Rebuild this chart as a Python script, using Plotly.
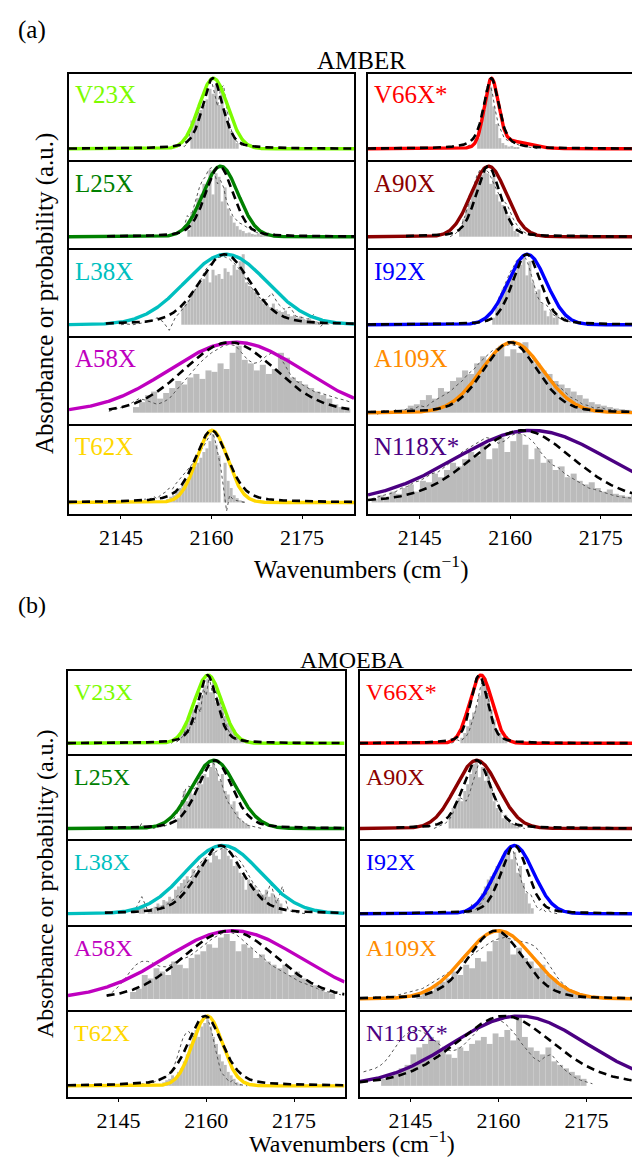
import numpy as np
import plotly.graph_objects as go

W, H = 640, 1159
FONT = "Liberation Serif"
X_RANGE = [2136.4, 2183.6]
X_RANGE_A_RIGHT = [2136.4, 2182.83]
Y_RANGE = [-0.16, 1.06]
TICKS = [2145, 2160, 2175]

LABELS = ["V23X", "L25X", "L38X", "A58X", "T62X", "V66X*", "A90X", "I92X", "A109X", "N118X*"]
COLORS = ["#7CFC00", "#008000", "#00BFBF", "#BF00BF", "#FFD700",
          "#FF0000", "#8B0000", "#0000FF", "#FF8C00", "#4B0082"]

# ---------------- AMBER (a) ----------------
A_MODEL_CENTER = [2160.3, 2161.5, 2162.4, 2164.0, 2160.1, 2156.85, 2156.4, 2162.8, 2160.3, 2163.5]
A_MODEL_FWHM = [5.6, 6.9, 16.0, 26.0, 6.0, 2.7, 6.9, 7.5, 12.0, 30.0]
A_SHOULDER_AMP = [0, 0, 0, 0, 0, 0.12, 0, 0, 0, 0]
A_SHOULDER_CENTER = [2160, 2160, 2160, 2160, 2160, 2159.6, 2160, 2160, 2160, 2160]
A_SHOULDER_FWHM = [5, 5, 5, 5, 5, 7.5, 5, 5, 5, 5]
A_FIT_CENTER = [2160.2, 2161.3, 2162.2, 2163.0, 2160.0, 2156.85, 2156.3, 2162.7, 2160.0, 2162.0]
A_FIT_FWHM = [4.0, 5.5, 10.0, 18.0, 6.5, 3.0, 4.7, 5.5, 10.5, 20.0]
A_FIT_LORENTZ = [0.4, 0.3, 0.3, 0.1, 0.4, 0.6, 0.3, 0.3, 0.2, 0.2]
A_FIT_START = [2136.4, 2142.7, 2142.5, 2143.0, 2136.4, 2136.4, 2142.7, 2136.4, 2136.4, 2136.4]
A_HIST_START = [2156.5, 2156.0, 2155.0, 2147.0, 2152.5, 2154.5, 2151.5, 2157.0, 2142.0, 2137.0]
A_HIST_WIDTH = [0.5, 0.5, 0.5, 1.0, 0.5, 0.5, 0.5, 0.5, 1.0, 1.0]
A_DOT_START = [2154.5, 2153.0, 2145.0, 2143.0, 2148.0, 2152.0, 2150.0, 2154.0, 2137.0, 2137.0]
A_DOT_STEP = [0.5, 0.5, 1.0, 1.0, 0.5, 0.5, 0.5, 0.5, 1.0, 1.0]

A_V23X_HIST = [0.40, 0.45, 0.50, 0.55, 0.62, 0.70, 0.85, 0.78, 0.90, 0.62, 0.80, 0.55, 0.35, 0.25, 0.15, 0.08]
A_L25X_HIST = [0.10, 0.35, 0.40, 0.55, 0.60, 0.75, 0.68, 0.95, 0.60, 0.90, 0.85, 0.50, 0.70, 0.40,
               0.30, 0.20, 0.15, 0.10, 0.08, 0.05, 0.06, 0.04, 0.03, 0.05, 0.02, 0.03, 0.02, 0.01]
A_L38X_HIST = [0.25, 0.30, 0.35, 0.45, 0.50, 0.55, 0.60, 0.65, 0.75, 0.60, 0.78, 0.70, 0.72, 0.65,
               0.80, 0.75, 0.70, 0.85, 0.78, 0.90, 1.00, 0.60, 0.55, 0.50, 0.45, 0.40, 0.35, 0.30,
               0.28, 0.25, 0.30, 0.22, 0.20, 0.18, 0.20, 0.15, 0.12, 0.14, 0.10, 0.12, 0.08, 0.07,
               0.09, 0.06, 0.05, 0.04, 0.05, 0.03, 0.02]
A_A58X_HIST = [0.08, 0.15, 0.25, 0.30, 0.20, 0.28, 0.35, 0.45, 0.40, 0.50, 0.55, 0.48, 0.60, 0.58,
               0.70, 0.62, 0.85, 0.95, 0.75, 0.70, 0.60, 0.68, 0.55, 0.62, 0.85, 0.78, 0.50, 0.45,
               0.40, 0.35, 0.30, 0.25, 0.20, 0.12, 0.08, 0.05]
A_T62X_HIST = [0.05, 0.08, 0.10, 0.15, 0.20, 0.25, 0.30, 0.35, 0.45, 0.50, 0.55, 0.62, 0.70, 0.75,
               0.85, 0.95, 0.80, 0.65, 0.00, 0.55, 0.30, 0.20, 0.10, 0.06, 0.03, 0.02]
A_V66X_HIST = [0.15, 0.35, 0.55, 0.80, 0.88, 0.60, 0.35, 0.15, 0.08, 0.05, 0.03, 0.04, 0.02, 0.02]
A_A90X_HIST = [0.10, 0.25, 0.40, 0.50, 0.65, 0.72, 0.80, 0.88, 0.95, 0.90, 0.75, 0.85, 0.60, 0.50,
               0.45, 0.35, 0.30, 0.15, 0.08, 0.05]
A_I92X_HIST = [0.10, 0.25, 0.40, 0.50, 0.55, 0.62, 0.70, 0.75, 0.90, 0.85, 0.95, 0.70, 0.90, 0.60,
               0.45, 0.50, 0.30, 0.20, 0.12, 0.18, 0.10, 0.14]
A_A109X_HIST = [0.05, 0.10, 0.12, 0.18, 0.25, 0.20, 0.35, 0.30, 0.45, 0.50, 0.60, 0.55, 0.70, 0.80,
                0.75, 0.85, 0.95, 0.80, 0.90, 0.85, 1.00, 0.75, 0.70, 0.60, 0.55, 0.45, 0.40, 0.35,
                0.30, 0.25, 0.20, 0.15, 0.12, 0.10, 0.08, 0.06, 0.05, 0.04, 0.03]
A_N118X_HIST = [0.05, 0.10, 0.08, 0.15, 0.12, 0.20, 0.25, 0.15, 0.30, 0.28, 0.40, 0.35, 0.45, 0.55,
                0.50, 0.60, 0.70, 0.65, 0.80, 0.60, 0.75, 0.90, 0.70, 0.85, 0.95, 0.80, 0.60, 0.75,
                0.55, 0.60, 0.45, 0.50, 0.35, 0.40, 0.30, 0.25, 0.28, 0.20, 0.15, 0.18, 0.12, 0.10,
                0.08, 0.10, 0.06, 0.05, 0.04]

A_V23X_DOT = [0.03, 0.05, 0.03, 0.08, 0.25, 0.40, 0.45, 0.55, 0.75, 0.85, 0.95, 0.97, 0.80, 0.60,
              0.85, 0.90, 0.60, 0.35, 0.20, 0.12, 0.08, 0.05, 0.07, 0.04, 0.06, 0.02, 0.01]
A_L25X_DOT = [0.00, 0.02, 0.04, 0.03, 0.08, 0.15, 0.30, 0.25, 0.40, 0.55, 0.70, 0.80, 0.85, 0.95,
              0.98, 0.90, 0.75, 0.80, 0.70, 0.50, 0.40, 0.30, 0.25, 0.20, 0.18, 0.15, 0.12, 0.10,
              0.08, 0.06, 0.07, 0.05, 0.04, 0.05, 0.03, 0.04, 0.02, 0.03, 0.01, 0.02, 0.00]
A_L38X_DOT = [0.00, 0.01, 0.00, 0.02, 0.03, 0.05, 0.10, 0.04, -0.08, 0.10, 0.20, 0.30, 0.45, 0.60,
              0.78, 0.88, 0.95, 0.97, 0.93, 0.85, 0.75, 0.60, 0.48, 0.38, 0.35, 0.45, 0.30, 0.22,
              0.25, 0.12, 0.10, 0.08, 0.15, -0.03, 0.05, 0.02, 0.03, 0.01]
A_A58X_DOT = [0.02, 0.05, 0.08, 0.10, 0.15, 0.20, 0.18, 0.15, 0.12, 0.15, 0.20, 0.30, 0.40, 0.50,
              0.60, 0.70, 0.78, 0.85, 0.90, 0.95, 0.97, 0.95, 0.85, 0.75, 0.70, 0.72, 0.80, 0.85,
              0.82, 0.70, 0.55, 0.45, 0.40, 0.35, 0.30, 0.28, 0.25, 0.22, 0.20, 0.18, 0.15]
A_T62X_DOT = [0.00, 0.03, 0.05, 0.02, 0.06, 0.08, 0.05, 0.10, 0.12, 0.15, 0.20, 0.18, 0.25, 0.30,
              0.35, 0.40, 0.45, 0.50, 0.55, 0.62, 0.70, 0.75, 0.82, 0.90, 0.97, 0.90, 0.70, 0.50,
              0.20, -0.12, 0.10, 0.05, 0.03, 0.02, 0.01, 0.00]
A_V66X_DOT = [0.00, 0.02, 0.03, 0.05, 0.08, 0.12, 0.25, 0.55, 0.85, 0.95, 0.80, 0.55, 0.35, 0.25,
              0.15, 0.12, 0.10, 0.08, 0.06, 0.05, 0.04, 0.03, 0.02, 0.01, 0.00, 0.00, 0.00]
A_A90X_DOT = [0.00, 0.02, 0.05, 0.10, 0.18, 0.30, 0.45, 0.60, 0.75, 0.88, 0.95, 0.98, 0.95, 0.90,
              0.80, 0.70, 0.62, 0.55, 0.50, 0.45, 0.35, 0.25, 0.18, 0.12, 0.08, 0.05, 0.03, 0.02,
              0.01, 0.00]
A_I92X_DOT = [0.00, 0.02, 0.03, 0.05, 0.08, 0.12, 0.18, 0.25, 0.35, 0.45, 0.55, 0.65, 0.75, 0.82,
              0.90, 0.95, 0.98, 0.95, 0.85, 0.70, 0.55, 0.40, 0.32, 0.30, 0.28, 0.22, 0.15, 0.12,
              0.10, 0.08, 0.10, 0.05, 0.04, 0.06, 0.03, 0.02, 0.01, 0.00, 0.00]
A_A109X_DOT = [0.02, -0.02, 0.03, 0.00, 0.04, 0.02, 0.06, 0.05, 0.10, 0.08, 0.15, 0.20, 0.25, 0.30,
               0.38, 0.45, 0.55, 0.62, 0.72, 0.80, 0.88, 0.92, 0.95, 0.97, 0.95, 0.90, 0.82, 0.75,
               0.65, 0.55, 0.45, 0.38, 0.30, 0.22, 0.18, 0.12, 0.10, 0.06, 0.08, 0.04, 0.05, 0.02,
               0.03, 0.00, 0.02, -0.01, 0.01]
A_N118X_DOT = [0.05, 0.08, 0.10, 0.12, 0.15, 0.20, 0.22, 0.28, 0.30, 0.35, 0.40, 0.42, 0.48, 0.55,
               0.62, 0.70, 0.75, 0.80, 0.85, 0.90, 0.88, 0.82, 0.85, 0.92, 0.96, 0.95, 0.90, 0.82,
               0.70, 0.60, 0.52, 0.48, 0.40, 0.35, 0.30, 0.25, 0.20, 0.18, 0.15, 0.12, 0.10, 0.08,
               0.07, 0.06, 0.05, 0.04, 0.03]

# ---------------- AMOEBA (b) ----------------
B_MODEL_CENTER = [2160.3, 2161.3, 2162.8, 2164.5, 2160.2, 2157.0, 2156.3, 2162.7, 2160.0, 2163.5]
B_MODEL_FWHM = [5.6, 9.0, 15.1, 27.0, 6.0, 4.5, 8.6, 7.7, 14.0, 27.0]
B_SHOULDER_AMP = [0, 0, 0, 0, 0, 0, 0, 0, 0, 0]
B_SHOULDER_CENTER = [2160] * 10
B_SHOULDER_FWHM = [5] * 10
B_FIT_CENTER = [2160.2, 2161.5, 2162.4, 2164.0, 2159.8, 2156.7, 2156.3, 2162.7, 2159.5, 2161.0]
B_FIT_FWHM = [3.9, 6.9, 9.1, 19.0, 7.0, 3.4, 5.7, 5.4, 11.0, 20.0]
B_FIT_LORENTZ = [0.4, 0.3, 0.3, 0.1, 0.4, 0.4, 0.3, 0.3, 0.2, 0.3]
B_FIT_START = [2136.4, 2142.7, 2142.7, 2143.0, 2136.4, 2136.4, 2142.6, 2136.4, 2136.4, 2136.4]
B_HIST_START = [2155.5, 2155.0, 2148.5, 2147.0, 2152.5, 2153.5, 2151.5, 2154.5, 2146.0, 2140.0]
B_HIST_WIDTH = [0.5, 0.5, 0.5, 1.0, 0.5, 0.5, 0.5, 0.5, 1.0, 1.0]
B_DOT_START = [2154.0, 2147.0, 2143.0, 2143.0, 2148.0, 2152.0, 2149.0, 2154.0, 2137.0, 2137.0]
B_DOT_STEP = [0.5, 0.5, 1.0, 1.0, 0.5, 0.5, 0.5, 0.5, 1.0, 1.0]

B_V23X_HIST = [0.20, 0.25, 0.30, 0.40, 0.50, 0.45, 0.60, 0.70, 0.85, 0.95, 0.75, 0.90, 0.60, 0.65,
               0.50, 0.40, 0.30, 0.25, 0.20, 0.12, 0.08, 0.05]
B_L25X_HIST = [0.15, 0.30, 0.55, 0.40, 0.60, 0.50, 0.55, 0.70, 0.65, 0.80, 0.75, 0.90, 1.00, 0.85,
               0.70, 0.80, 0.55, 0.50, 0.35, 0.40, 0.25, 0.15, 0.10, 0.08, 0.05]
B_L38X_HIST = [0.10, 0.12, 0.00, 0.05, 0.08, 0.10, 0.15, 0.12, 0.20, 0.18, 0.25, 0.22, 0.35, 0.40,
               0.45, 0.50, 0.55, 0.50, 0.65, 0.60, 0.70, 0.75, 0.82, 0.80, 0.75, 0.90, 0.85, 0.80,
               0.95, 1.00, 0.85, 0.80, 0.70, 0.75, 0.60, 0.55, 0.35, 0.50, 0.45, 0.40, 0.35, 0.30,
               0.28, 0.35, 0.25, 0.30, 0.25, 0.20, 0.15]
B_A58X_HIST = [0.10, 0.15, 0.35, 0.30, 0.45, 0.40, 0.35, 0.55, 0.50, 0.45, 0.60, 0.65, 0.70, 0.80,
               0.75, 0.90, 0.95, 0.85, 0.70, 0.80, 0.75, 0.60, 0.65, 0.55, 0.50, 0.45, 0.50, 0.35,
               0.40, 0.30, 0.25, 0.20, 0.15, 0.10, 0.08]
B_T62X_HIST = [0.05, 0.08, 0.10, 0.15, 0.12, 0.20, 0.25, 0.35, 0.45, 0.60, 0.75, 0.80, 0.70, 0.85,
               0.90, 0.95, 0.85, 0.70, 0.60, 0.45, 0.35, 0.30, 0.20, 0.15, 0.10, 0.05, 0.03]
B_V66X_HIST = [0.08, 0.15, 0.25, 0.35, 0.45, 0.55, 0.70, 0.85, 0.95, 0.70, 0.50, 0.35, 0.20, 0.15,
               0.08, 0.05]
B_A90X_HIST = [0.20, 0.30, 0.35, 0.45, 0.40, 0.55, 0.65, 0.80, 0.95, 1.00, 0.75, 0.90, 0.70, 0.85,
               0.60, 0.40, 0.30, 0.25, 0.15, 0.20, 0.10, 0.08, 0.05, 0.03]
B_I92X_HIST = [0.05, 0.10, 0.08, 0.15, 0.20, 0.30, 0.40, 0.50, 0.55, 0.60, 0.70, 0.75, 0.85, 0.90,
               0.95, 0.80, 0.90, 0.60, 0.70, 0.45, 0.30, 0.15, 0.08]
B_A109X_HIST = [0.05, 0.10, 0.12, 0.20, 0.25, 0.30, 0.40, 0.35, 0.50, 0.45, 0.60, 0.55, 0.70, 0.85,
                1.00, 0.90, 0.65, 0.75, 0.60, 0.55, 0.45, 0.50, 0.35, 0.30, 0.20, 0.15, 0.12, 0.08,
                0.05, 0.04]
B_N118X_HIST = [0.10, 0.15, 0.20, 0.25, 0.30, 0.45, 0.55, 0.60, 0.70, 0.65, 0.50, 0.45, 0.40, 0.55,
                0.50, 0.60, 0.65, 0.70, 0.60, 0.75, 0.70, 0.80, 0.65, 1.00, 0.70, 0.55, 0.50, 0.45,
                0.55, 0.35, 0.30, 0.25, 0.20, 0.15, 0.10]

B_V23X_DOT = [0.00, 0.03, 0.02, 0.06, 0.10, 0.20, 0.15, 0.35, 0.30, 0.55, 0.45, 0.80, 0.70, 0.98,
              0.75, 0.90, 0.55, 0.60, 0.35, 0.25, 0.15, 0.10, 0.05, 0.08, 0.03, 0.05, 0.01]
B_L25X_DOT = [0.00, 0.01, 0.02, 0.00, 0.08, 0.00, 0.01, 0.02, 0.00, 0.02, 0.03, 0.02, 0.04, 0.06,
              0.10, 0.15, 0.22, 0.35, 0.48, 0.58, 0.62, 0.60, 0.58, 0.65, 0.75, 0.85, 0.92, 0.97,
              0.98, 0.92, 0.80, 0.70, 0.55, 0.42, 0.35, 0.28, 0.20, 0.15, 0.12, 0.08, 0.05, 0.04,
              0.03, 0.02, 0.01, 0.00]
B_L38X_DOT = [0.00, 0.02, 0.01, 0.03, 0.05, 0.08, 0.25, 0.05, 0.08, 0.10, 0.12, 0.18, 0.25, 0.35,
              0.48, 0.62, 0.75, 0.82, 0.88, 0.93, 0.97, 0.92, 0.85, 0.75, 0.60, 0.45, 0.35, 0.20,
              0.45, 0.15, 0.40, 0.05, 0.02, 0.01, 0.00]
B_A58X_DOT = [0.05, 0.10, 0.18, 0.28, 0.40, 0.50, 0.55, 0.55, 0.52, 0.48, 0.47, 0.50, 0.55, 0.58,
              0.62, 0.68, 0.75, 0.82, 0.88, 0.93, 0.97, 0.98, 0.95, 0.88, 0.80, 0.72, 0.65, 0.58,
              0.50, 0.45, 0.40, 0.35, 0.30, 0.25, 0.22, 0.18, 0.15, 0.12, 0.10, 0.08, 0.06]
B_T62X_DOT = [0.00, 0.02, 0.03, 0.02, 0.04, 0.03, 0.05, 0.06, 0.08, 0.10, 0.12, 0.15, 0.20, 0.28,
              0.40, 0.55, 0.68, 0.75, 0.78, 0.72, 0.70, 0.78, 0.88, 0.95, 0.97, 0.90, 0.75, 0.55,
              0.35, 0.20, 0.15, 0.10, 0.05, 0.08, 0.03, 0.02, 0.01, 0.00, 0.00]
B_V66X_DOT = [0.00, 0.02, 0.05, 0.03, 0.06, 0.10, 0.18, 0.30, 0.45, 0.65, 0.85, 0.97, 0.80, 0.55,
              0.35, 0.20, 0.12, 0.08, 0.05, 0.10, 0.03, 0.02, 0.01, 0.00, 0.00]
B_A90X_DOT = [0.00, 0.02, 0.03, 0.05, 0.08, 0.12, 0.18, 0.28, 0.38, 0.45, 0.42, 0.40, 0.50, 0.65,
              0.80, 0.92, 0.97, 0.95, 0.85, 0.70, 0.55, 0.45, 0.35, 0.25, 0.18, 0.12, 0.08, 0.06,
              0.04, 0.02, 0.01, 0.00]
B_I92X_DOT = [0.00, 0.03, 0.02, 0.15, 0.05, 0.10, 0.15, 0.22, 0.30, 0.38, 0.48, 0.58, 0.68, 0.78,
              0.88, 0.95, 0.98, 0.92, 0.80, 0.62, 0.45, 0.35, 0.30, 0.28, 0.20, 0.10, 0.05, 0.08,
              0.03, 0.05, 0.02, 0.01, 0.00]
B_A109X_DOT = [0.02, 0.00, 0.03, 0.01, 0.04, 0.03, 0.06, 0.08, 0.10, 0.12, 0.15, 0.20, 0.25, 0.30,
               0.36, 0.42, 0.50, 0.56, 0.62, 0.68, 0.74, 0.80, 0.85, 0.88, 0.90, 0.88, 0.86, 0.85,
               0.82, 0.78, 0.70, 0.58, 0.45, 0.32, 0.22, 0.15, 0.10, 0.07, 0.05, 0.04, 0.03, 0.02,
               0.02, 0.01, 0.01, 0.00, 0.00]
B_N118X_DOT = [0.20, 0.22, 0.25, 0.30, 0.38, 0.50, 0.62, 0.72, 0.78, 0.80, 0.78, 0.72, 0.65, 0.58,
               0.52, 0.50, 0.52, 0.58, 0.66, 0.75, 0.85, 0.92, 0.96, 0.95, 0.90, 0.82, 0.72, 0.60,
               0.50, 0.40, 0.35, 0.42, 0.45, 0.35, 0.25, 0.18, 0.12, 0.08, 0.05, 0.03]

A_HISTS = [A_V23X_HIST, A_L25X_HIST, A_L38X_HIST, A_A58X_HIST, A_T62X_HIST,
           A_V66X_HIST, A_A90X_HIST, A_I92X_HIST, A_A109X_HIST, A_N118X_HIST]
A_DOTS = [A_V23X_DOT, A_L25X_DOT, A_L38X_DOT, A_A58X_DOT, A_T62X_DOT,
          A_V66X_DOT, A_A90X_DOT, A_I92X_DOT, A_A109X_DOT, A_N118X_DOT]
B_HISTS = [B_V23X_HIST, B_L25X_HIST, B_L38X_HIST, B_A58X_HIST, B_T62X_HIST,
           B_V66X_HIST, B_A90X_HIST, B_I92X_HIST, B_A109X_HIST, B_N118X_HIST]
B_DOTS = [B_V23X_DOT, B_L25X_DOT, B_L38X_DOT, B_A58X_DOT, B_T62X_DOT,
          B_V66X_DOT, B_A90X_DOT, B_I92X_DOT, B_A109X_DOT, B_N118X_DOT]

# ---------------- layout geometry (pixels) ----------------
LW = 2
GROUPS = [
    dict(name="AMBER", tag="(a)", tag_y=22, title_y=53, cols=[(61, 346), (360, 640)],
         top=66, row_h=88.0, fs=25, tfs=22, xlab_bottom=578,
         model_c=A_MODEL_CENTER, model_w=A_MODEL_FWHM,
         sh_a=A_SHOULDER_AMP, sh_c=A_SHOULDER_CENTER, sh_w=A_SHOULDER_FWHM,
         fit_c=A_FIT_CENTER, fit_w=A_FIT_FWHM, fit_l=A_FIT_LORENTZ, fit_s=A_FIT_START,
         h_s=A_HIST_START, h_w=A_HIST_WIDTH, hists=A_HISTS,
         d_s=A_DOT_START, d_st=A_DOT_STEP, dots=A_DOTS, cut_right=True),
    dict(name="AMOEBA", tag="(b)", tag_y=597, title_y=652, cols=[(60, 336.5), (352, 629)],
         top=663, row_h=85.2, fs=24, tfs=22, xlab_bottom=1151,
         model_c=B_MODEL_CENTER, model_w=B_MODEL_FWHM,
         sh_a=B_SHOULDER_AMP, sh_c=B_SHOULDER_CENTER, sh_w=B_SHOULDER_FWHM,
         fit_c=B_FIT_CENTER, fit_w=B_FIT_FWHM, fit_l=B_FIT_LORENTZ, fit_s=B_FIT_START,
         h_s=B_HIST_START, h_w=B_HIST_WIDTH, hists=B_HISTS,
         d_s=B_DOT_START, d_st=B_DOT_STEP, dots=B_DOTS, cut_right=False),
]


def gauss(x, c, w):
    return np.exp(-4 * np.log(2) * ((x - c) / w) ** 2)


def pvoigt(x, c, w, eta):
    lor = 1.0 / (1.0 + ((x - c) / (w / 2)) ** 2)
    return eta * lor + (1 - eta) * gauss(x, c, w)


fig = go.Figure()
layout = dict(width=W, height=H, autosize=False, showlegend=False,
              margin=dict(l=0, r=0, t=0, b=0, pad=0),
              plot_bgcolor="rgba(0,0,0,0)", paper_bgcolor="white",
              font=dict(family=FONT, color="black"))
annotations = []

ax_i = 0
for g in GROUPS:
    fs = g["fs"]
    for k in range(10):
        col = k // 5
        row = k % 5
        ax_i += 1
        xa = "x" if ax_i == 1 else f"x{ax_i}"
        ya = "y" if ax_i == 1 else f"y{ax_i}"
        xl, xr = g["cols"][col]
        top = g["top"] + row * g["row_h"]
        bot = top + g["row_h"]
        bottom_row = row == 4
        if not bottom_row:
            bot -= LW  # so the shared border is drawn as one line
        cut = g["cut_right"] and col == 1
        xrange = X_RANGE_A_RIGHT if cut else X_RANGE

        xkey = "xaxis" if ax_i == 1 else f"xaxis{ax_i}"
        ykey = "yaxis" if ax_i == 1 else f"yaxis{ax_i}"
        layout[xkey] = dict(domain=[xl / W, xr / W], anchor=ya, range=xrange,
                            showline=True, linecolor="black", linewidth=LW, mirror=True,
                            showgrid=False, zeroline=False, tickvals=TICKS,
                            ticks="outside" if bottom_row else "", ticklen=3,
                            tickwidth=1.2, tickcolor="black",
                            showticklabels=bottom_row,
                            tickfont=dict(family=FONT, size=g["tfs"], color="black"))
        layout[ykey] = dict(domain=[1 - bot / H, 1 - top / H], anchor=xa, range=Y_RANGE,
                            showline=True, linecolor="black", linewidth=LW,
                            mirror=not cut, showgrid=False, zeroline=False,
                            showticklabels=False, ticks="")

        # histogram
        hv = g["hists"][k]
        bw = g["h_w"][k]
        hx = [g["h_s"][k] + (i + 0.5) * bw for i in range(len(hv))]
        fig.add_trace(go.Bar(x=hx, y=hv, width=bw, marker=dict(color="#BBBBBB", line=dict(width=0)),
                             xaxis=xa, yaxis=ya, hoverinfo="skip"))
        # experimental (dotted)
        dv = g["dots"][k]
        dx = [g["d_s"][k] + i * g["d_st"][k] for i in range(len(dv))]
        fig.add_trace(go.Scatter(x=dx, y=dv, mode="lines", xaxis=xa, yaxis=ya,
                                 line=dict(color="#555555", width=1, dash="dot")))
        # model line shape (colored)
        xs = np.linspace(X_RANGE[0], X_RANGE[1], 700)
        ym = gauss(xs, g["model_c"][k], g["model_w"][k]) + g["sh_a"][k] * gauss(xs, g["sh_c"][k], g["sh_w"][k])
        ym = ym / ym.max()
        fig.add_trace(go.Scatter(x=xs, y=ym, mode="lines", xaxis=xa, yaxis=ya,
                                 line=dict(color=COLORS[k], width=3.4)))
        # fit (dashed)
        xf = np.linspace(g["fit_s"][k], X_RANGE[1], 600)
        yf = pvoigt(xf, g["fit_c"][k], g["fit_w"][k], g["fit_l"][k])
        fig.add_trace(go.Scatter(x=xf, y=yf, mode="lines", xaxis=xa, yaxis=ya,
                                 line=dict(color="black", width=2.6, dash="8px,5px")))

        annotations.append(dict(x=(xl + 4) / W, y=1 - (top + 21) / H, xref="paper", yref="paper",
                                text=LABELS[k], showarrow=False, xanchor="left", yanchor="middle",
                                font=dict(family=FONT, size=fs, color=COLORS[k])))

    left = g["cols"][0][0]
    right = g["cols"][1][0] + (g["cols"][0][1] - g["cols"][0][0])
    cx = (left + right) / 2
    p_top = g["top"]
    p_bot = g["top"] + 5 * g["row_h"]
    annotations.append(dict(x=8 / W, y=1 - g["tag_y"] / H, xref="paper", yref="paper", text=g["tag"],
                            showarrow=False, xanchor="left", yanchor="middle",
                            font=dict(family=FONT, size=fs, color="black")))
    annotations.append(dict(x=cx / W, y=1 - g["title_y"] / H, xref="paper", yref="paper", text=g["name"],
                            showarrow=False, xanchor="center", yanchor="middle",
                            font=dict(family=FONT, size=fs, color="black")))
    annotations.append(dict(x=37 / W, y=1 - (p_top + p_bot) / 2 / H, xref="paper", yref="paper",
                            text="Absorbance or probability (a.u.)", textangle=-90,
                            showarrow=False, xanchor="center", yanchor="middle",
                            font=dict(family=FONT, size=fs, color="black")))
    annotations.append(dict(x=cx / W, y=1 - g["xlab_bottom"] / H, xref="paper", yref="paper",
                            text="Wavenumbers (cm<sup>\u22121</sup>)",
                            showarrow=False, xanchor="center", yanchor="bottom",
                            font=dict(family=FONT, size=fs, color="black")))

layout["annotations"] = annotations
fig.update_layout(**layout)
fig.write_html("out.html")
